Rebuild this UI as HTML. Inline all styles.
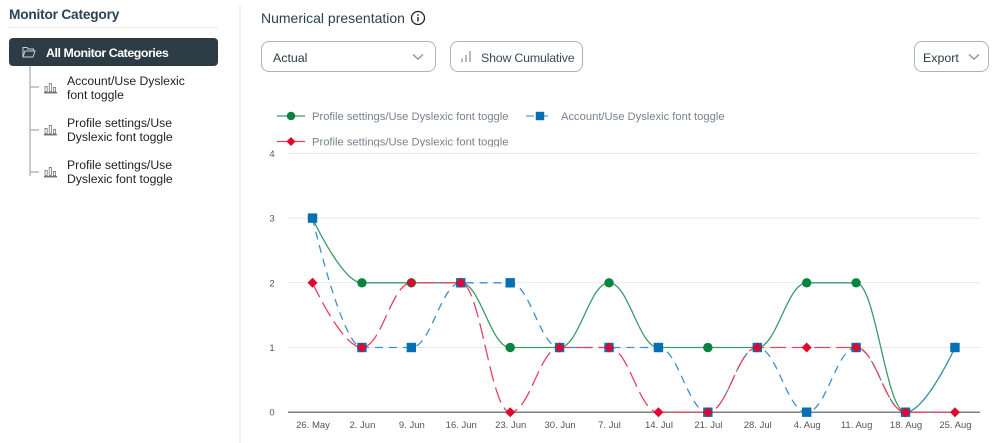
<!DOCTYPE html>
<html lang="en">
<head>
<meta charset="utf-8">
<title>Monitor Category</title>
<style>
html,body{margin:0;padding:0;background:#fff;}
body{width:999px;height:443px;position:relative;overflow:hidden;font-family:"Liberation Sans",sans-serif;color:#2d3b45;}
.a{position:absolute;white-space:nowrap;}
.box{position:absolute;box-sizing:border-box;border:1px solid #a9b4bf;border-radius:8px;background:#fff;}
.tree{font-size:12.2px;line-height:14px;color:#222;white-space:nowrap;position:absolute;left:67px;}
.bar-ic{position:absolute;left:44px;}
</style>
</head>
<body>
<div class="a" style="left:9px;top:6px;font-size:13.7px;line-height:17px;font-weight:bold;letter-spacing:-0.2px;color:#2a4256;">Monitor Category</div>
<div class="a" style="left:9px;top:27px;width:209px;height:1px;background:#e8eaec;"></div>
<div class="a" style="left:239px;top:5px;width:2px;height:438px;background:#f1f2f3;"></div>

<div class="a" style="left:9px;top:38px;width:209px;height:28px;background:#2d3b45;border-radius:4px;"></div>
<svg class="a" style="left:22px;top:46px" width="14" height="12" viewBox="0 0 14 12"><path d="M1 11V1.500h4l1 1.500h5.500v2M1 11l2-6h10l-2 6z" fill="none" stroke="#c9d0d6" stroke-width="1"/></svg>
<div class="a" style="left:46px;top:45.500px;font-size:12.400px;line-height:15px;font-weight:bold;letter-spacing:-0.45px;color:#fff;">All Monitor Categories</div>

<svg class="a" style="left:28px;top:66px" width="14" height="112"><path d="M2 0V110M2 21H11M2 64H11M2 106H11" stroke="#a0acb8" stroke-width="1.200" fill="none"/></svg>

<svg class="bar-ic" style="top:82px" width="13" height="12" viewBox="0 0 13 12"><path d="M1 4.500h2.200v5H1zM5.200 1.500h2.200v8H5.200zM9.400 5.500h2.200v4H9.400z" fill="#fff" stroke="#666" stroke-width=".7"/><path d="M0 10.800h13" stroke="#444" stroke-width="1.100"/></svg>
<div class="tree" style="top:74px;">Account/Use Dyslexic<br>font toggle</div>
<svg class="bar-ic" style="top:124px" width="13" height="12" viewBox="0 0 13 12"><path d="M1 4.500h2.200v5H1zM5.200 1.500h2.200v8H5.200zM9.400 5.500h2.200v4H9.400z" fill="#fff" stroke="#666" stroke-width=".7"/><path d="M0 10.800h13" stroke="#444" stroke-width="1.100"/></svg>
<div class="tree" style="top:116px;">Profile settings/Use<br>Dyslexic font toggle</div>
<svg class="bar-ic" style="top:166px" width="13" height="12" viewBox="0 0 13 12"><path d="M1 4.500h2.200v5H1zM5.200 1.500h2.200v8H5.200zM9.400 5.500h2.200v4H9.400z" fill="#fff" stroke="#666" stroke-width=".7"/><path d="M0 10.800h13" stroke="#444" stroke-width="1.100"/></svg>
<div class="tree" style="top:158px;">Profile settings/Use<br>Dyslexic font toggle</div>

<div class="a" style="left:261px;top:10px;font-size:14px;line-height:17px;color:#2a4256;">Numerical presentation</div>
<svg class="a" style="left:410px;top:10px" width="16" height="16" viewBox="0 0 16 16"><circle cx="8" cy="8" r="6.500" fill="none" stroke="#222" stroke-width="1.300"/><rect x="7.300" y="7" width="1.400" height="4.500" fill="#222"/><rect x="7.300" y="4.300" width="1.400" height="1.500" fill="#222"/></svg>

<div class="box" style="left:261px;top:41px;width:175px;height:31px;"></div>
<div class="a" style="left:273px;top:49.500px;font-size:12.400px;line-height:16px;color:#2d3b45;">Actual</div>
<svg class="a" style="left:412px;top:53px" width="12" height="8"><path d="M1 1.500L6 6l5-4.500" fill="none" stroke="#8b98a5" stroke-width="1.500"/></svg>

<div class="box" style="left:450px;top:41px;width:133px;height:31px;"></div>
<svg class="a" style="left:460px;top:50px" width="12" height="13"><path d="M2 12V8.500M6 12V5M10 12V1" stroke="#9aa5b0" stroke-width="1.500" fill="none"/></svg>
<div class="a" style="left:481px;top:49.500px;font-size:12.400px;line-height:16px;letter-spacing:-0.2px;color:#3b4a56;">Show Cumulative</div>

<div class="box" style="left:914px;top:41px;width:75px;height:31px;"></div>
<div class="a" style="left:923px;top:49.500px;font-size:12.400px;line-height:16px;color:#2d3b45;">Export</div>
<svg class="a" style="left:968px;top:53px" width="12" height="8"><path d="M1 1.500L6 6l5-4.500" fill="none" stroke="#8b98a5" stroke-width="1.500"/></svg>

<svg id="chart" class="a" style="left:0;top:0" width="999" height="443" viewBox="0 0 999 443"></svg>

<script>
const categories = ["26. May","2. Jun","9. Jun","16. Jun","23. Jun","30. Jun","7. Jul","14. Jul","21. Jul","28. Jul","4. Aug","11. Aug","18. Aug","25. Aug"];
const yTicks = [0,1,2,3,4];
const greenValues = [3,2,2,2,1,1,2,1,1,1,2,2,0,1];
const blueValues = [3,1,1,2,2,1,1,1,0,1,0,1,0,1];
const redValues = [2,1,2,2,0,1,1,0,0,1,1,1,0,0];
const greenName = "Profile settings/Use Dyslexic font toggle";
const blueName = "Account/Use Dyslexic font toggle";
const redName = "Profile settings/Use Dyslexic font toggle";

const NS = "http://www.w3.org/2000/svg";
const svg = document.getElementById("chart");
const firstX = 312.5, stepX = 49.42, zeroY = 412.2, unitY = 64.7;
function xPos(i){ return firstX + i * stepX; }
function yPos(v){ return zeroY - v * unitY; }
function make(tag, attrs){
  const el = document.createElementNS(NS, tag);
  for (const k in attrs) el.setAttribute(k, attrs[k]);
  svg.appendChild(el);
  return el;
}
function splinePath(values){
  const pts = values.map((v,i)=>({x:xPos(i),y:yPos(v)}));
  const s = 1.5, den = s + 1;
  const ctrl = pts.map((p,i)=>{
    const prev = pts[i-1], next = pts[i+1];
    if(!prev || !next) return {lx:p.x,ly:p.y,rx:p.x,ry:p.y};
    const lx=(s*p.x+prev.x)/den, rx=(s*p.x+next.x)/den;
    let ly=(s*p.y+prev.y)/den, ry=(s*p.y+next.y)/den;
    const corr=((ry-ly)*(rx-p.x))/(rx-lx)+p.y-ry;
    ly+=corr; ry+=corr;
    if(ly>prev.y&&ly>p.y){ly=Math.max(prev.y,p.y);ry=2*p.y-ly;}
    else if(ly<prev.y&&ly<p.y){ly=Math.min(prev.y,p.y);ry=2*p.y-ly;}
    if(ry>next.y&&ry>p.y){ry=Math.max(next.y,p.y);ly=2*p.y-ry;}
    else if(ry<next.y&&ry<p.y){ry=Math.min(next.y,p.y);ly=2*p.y-ry;}
    return {lx,ly,rx,ry};
  });
  let d = "M"+pts[0].x+" "+pts[0].y;
  for(let i=1;i<pts.length;i++){
    d += " C"+ctrl[i-1].rx+" "+ctrl[i-1].ry+" "+ctrl[i].lx+" "+ctrl[i].ly+" "+pts[i].x+" "+pts[i].y;
  }
  return d;
}
function drawMarker(kind,cx,cy,fill,scale){
  const k = scale || 1;
  if(kind==="circle"){
    return make("circle",{cx:cx,cy:cy,r:4.7*k,fill:fill});
  }
  if(kind==="square"){
    const h = 4.7*k;
    return make("rect",{x:cx-h,y:cy-h,width:2*h,height:2*h,fill:fill});
  }
  const r = 5*k;
  return make("path",{d:"M"+cx+" "+(cy-r)+"L"+(cx+r)+" "+cy+"L"+cx+" "+(cy+r)+"L"+(cx-r)+" "+cy+"Z",fill:fill});
}

yTicks.forEach(t=>{
  const y = yPos(t);
  const line = make("line",{x1:288,x2:980,y1:y,y2:y,stroke:t===0?"#555":"#e9e9e9","stroke-width":t===0?1.2:1});
  
  
  const lab = make("text",{x:272,y:y+3.5,"text-anchor":"middle","font-size":"9.500","fill":"#555"});
  lab.textContent = t;
  
  
});
categories.forEach((c,i)=>{
  const lab = make("text",{x:xPos(i)+0.5,y:428,"text-anchor":"middle","font-size":"9.500","fill":"#555"});
  lab.textContent = c;
  
  
});

const seriesList = [
  {key:"green",values:greenValues,color:"#3b9a68",mark:"#07853f",kind:"circle",dash:"none"},
  {key:"blue",values:blueValues,color:"#3d8fc9",mark:"#0770b5",kind:"square",dash:"8 6"},
  {key:"red",values:redValues,color:"#e8415c",mark:"#e0062e",kind:"diamond",dash:"16 6"}
];
seriesList.forEach(s=>{
  const p = make("path",{d:splinePath(s.values),fill:"none",stroke:s.color,"stroke-width":1.3,"stroke-dasharray":s.dash});
  
  
});
seriesList.forEach(s=>{
  s.values.forEach((v,i)=>{
    const m = drawMarker(s.kind,xPos(i),yPos(v),s.mark);
    
    
  });
});

const defs = document.createElementNS(NS,"defs");
defs.innerHTML = '<clipPath id="legendClip"><rect x="260" y="100" width="500" height="47"/></clipPath>';
svg.appendChild(defs);
const legendEntries = [
  {name:greenName,x:277,y:116,color:"#3b9a68",mark:"#07853f",kind:"circle",dash:"none"},
  {name:blueName,x:526,y:116,color:"#5a9fd4",mark:"#0770b5",kind:"square",dash:"8 6"},
  {name:redName,x:277,y:141.500,color:"#e8415c",mark:"#e0062e",kind:"diamond",dash:"none"}
];
legendEntries.forEach(e=>{
  const l = make("line",{x1:e.x,x2:e.x+28,y1:e.y,y2:e.y,stroke:e.color,"stroke-width":1.3,"stroke-dasharray":e.dash});
  
  
  const m = drawMarker(e.kind,e.x+14,e.y,e.mark,0.9);
  
  
  const t = make("text",{x:e.x+35,y:e.y+4,"font-size":"11.200","fill":"#77828d","clip-path":"url(#legendClip)"});
  t.textContent = e.name;
  
  
});
</script>
</body>
</html>
